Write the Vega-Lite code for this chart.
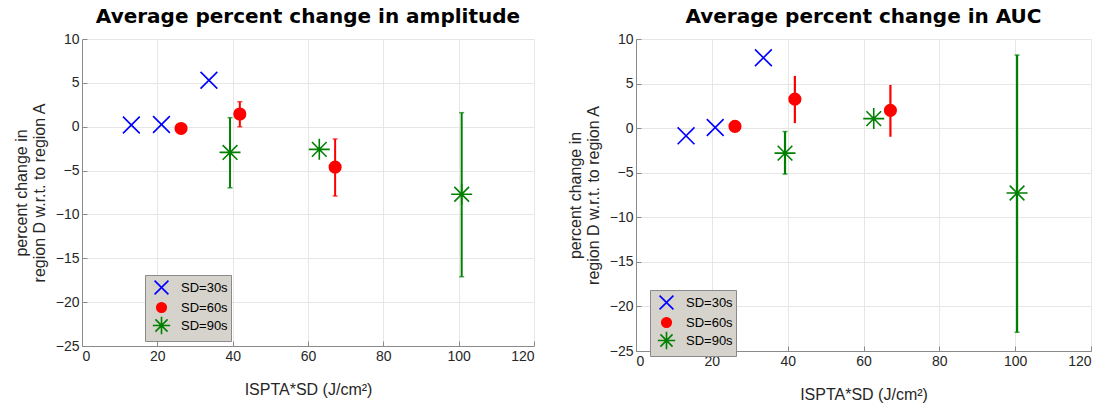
{
  "$schema": "https://vega.github.io/schema/vega-lite/v6.json",
  "background": "white",
  "padding": {"left": 13, "top": 7, "right": 10, "bottom": 5},
  "spacing": 32,
  "config": {
    "font": "Liberation Sans",
    "view": {"stroke": null},
    "title": {"font": "DejaVu Sans", "fontSize": 20, "fontWeight": "bold", "color": "#000000", "offset": 5, "anchor": "middle"},
    "axis": {
      "domainColor": "#8a8a8a",
      "domainWidth": 1,
      "tickColor": "#8a8a8a",
      "tickSize": -5,
      "labelPadding": 8,
      "labelFont": "Liberation Sans",
      "labelFontSize": 14,
      "labelColor": "#262626",
      "titleFont": "Liberation Sans",
      "titleFontSize": 16,
      "titleFontWeight": "normal",
      "titleColor": "#262626",
      "gridColor": "#e6e6e6",
      "gridWidth": 1
    },
    "axisX": {"titlePadding": 18},
    "legend": {
      "fillColor": "#d6d3cc",
      "strokeColor": "#8a8a8a",
      "padding": 3,
      "labelFont": "Liberation Sans",
      "labelFontSize": 13,
      "labelColor": "#000000",
      "symbolStrokeWidth": 1.6,
      "symbolSize": 300,
      "symbolOffset": 4,
      "rowPadding": -3,
      "labelOffset": 10
    }
  },
  "datasets": {
    "amp": [
      {"series": "SD=30s", "x": 13.1, "y": 0.2},
      {"series": "SD=30s", "x": 21.1, "y": 0.25},
      {"series": "SD=30s", "x": 33.7, "y": 5.3},
      {"series": "SD=60s", "x": 26.3, "y": -0.2},
      {"series": "SD=60s", "x": 41.9, "y": 1.45, "lo": 0.0, "hi": 2.85},
      {"series": "SD=60s", "x": 67.2, "y": -4.6, "lo": -7.9, "hi": -1.4},
      {"series": "SD=90s", "x": 39.3, "y": -2.93, "lo": -6.96, "hi": 1.03},
      {"series": "SD=90s", "x": 63.0, "y": -2.58},
      {"series": "SD=90s", "x": 100.8, "y": -7.7, "lo": -17.1, "hi": 1.6}
    ],
    "auc": [
      {"series": "SD=30s", "x": 13.2, "y": -0.86},
      {"series": "SD=30s", "x": 20.9, "y": 0.07},
      {"series": "SD=30s", "x": 33.6, "y": 7.9},
      {"series": "SD=60s", "x": 26.1, "y": 0.2},
      {"series": "SD=60s", "x": 41.9, "y": 3.25, "lo": 0.56, "hi": 5.86},
      {"series": "SD=60s", "x": 67.1, "y": 2.0, "lo": -0.97, "hi": 4.85},
      {"series": "SD=90s", "x": 39.3, "y": -2.8, "lo": -5.15, "hi": -0.38},
      {"series": "SD=90s", "x": 62.7, "y": 1.07},
      {"series": "SD=90s", "x": 100.5, "y": -7.28, "lo": -22.9, "hi": 8.2}
    ]
  },
  "resolve": {
    "scale": {"shape": "independent", "fill": "independent", "stroke": "independent", "color": "independent"},
    "legend": {"shape": "independent", "fill": "independent", "stroke": "independent", "color": "independent"}
  },
  "hconcat": [
    {
      "title": "Average percent change in amplitude",
      "width": 452,
      "height": 307,
      "data": {"name": "amp"},
      "encoding": {
        "x": {"field": "x", "type": "quantitative", "scale": {"domain": [0, 120], "nice": false}, "axis": {"values": [0, 20, 40, 60, 80, 100, 120], "title": "ISPTA*SD (J/cm²)", "grid": true}},
        "y": {"field": "y", "type": "quantitative", "scale": {"domain": [-25, 10], "nice": false}, "axis": {"values": [-25, -20, -15, -10, -5, 0, 5, 10], "title": ["percent change in", "region D w.r.t. to region A"], "grid": true, "titlePadding": 8}}
      },
      "layer": [
        {
          "transform": [{"filter": "isValid(datum.lo)"}],
          "mark": {"type": "rule", "strokeWidth": 2},
          "encoding": {
            "y": {"field": "lo", "type": "quantitative"},
            "y2": {"field": "hi"},
            "color": {"field": "series", "type": "nominal", "scale": {"domain": ["SD=60s", "SD=90s"], "range": ["#ff0000", "#008000"]}, "legend": null}
          }
        },
        {
          "transform": [{"filter": "isValid(datum.lo)"}],
          "mark": {"type": "tick", "orient": "horizontal", "size": 5, "thickness": 1.5},
          "encoding": {
            "y": {"field": "lo", "type": "quantitative"},
            "color": {"field": "series", "type": "nominal", "scale": {"domain": ["SD=60s", "SD=90s"], "range": ["#ff0000", "#008000"]}, "legend": null}
          }
        },
        {
          "transform": [{"filter": "isValid(datum.hi)"}],
          "mark": {"type": "tick", "orient": "horizontal", "size": 5, "thickness": 1.5},
          "encoding": {
            "y": {"field": "hi", "type": "quantitative"},
            "color": {"field": "series", "type": "nominal", "scale": {"domain": ["SD=60s", "SD=90s"], "range": ["#ff0000", "#008000"]}, "legend": null}
          }
        },
        {
          "mark": {"type": "point", "strokeWidth": 1.6, "opacity": 1, "size": 441},
          "encoding": {
            "shape": {"field": "series", "type": "nominal", "title": null, "scale": {"domain": ["SD=30s", "SD=60s", "SD=90s"], "range": ["M-0.8,-0.8L0.8,0.8M-0.8,0.8L0.8,-0.8", "M-0.55,0A0.55,0.55,0,1,0,0.55,0A0.55,0.55,0,1,0,-0.55,0Z", "M-1,0L1,0M0,-1L0,1M-0.7,-0.7L0.7,0.7M-0.7,0.7L0.7,-0.7"]}, "legend": {"orient": "none", "legendX": 63, "legendY": 236}},
            "stroke": {"field": "series", "type": "nominal", "title": null, "scale": {"domain": ["SD=30s", "SD=60s", "SD=90s"], "range": ["#0000ff", "#ff0000", "#008000"]}, "legend": {"orient": "none", "legendX": 63, "legendY": 236}},
            "fill": {"field": "series", "type": "nominal", "title": null, "scale": {"domain": ["SD=30s", "SD=60s", "SD=90s"], "range": ["transparent", "#ff0000", "transparent"]}, "legend": {"orient": "none", "legendX": 63, "legendY": 236}}
          }
        }
      ]
    },
    {
      "title": "Average percent change in AUC",
      "width": 455,
      "height": 312,
      "data": {"name": "auc"},
      "encoding": {
        "x": {"field": "x", "type": "quantitative", "scale": {"domain": [0, 120], "nice": false}, "axis": {"values": [0, 20, 40, 60, 80, 100, 120], "title": "ISPTA*SD (J/cm²)", "grid": true}},
        "y": {"field": "y", "type": "quantitative", "scale": {"domain": [-25, 10], "nice": false}, "axis": {"values": [-25, -20, -15, -10, -5, 0, 5, 10], "title": ["percent change in", "region D w.r.t. to region A"], "grid": true, "titlePadding": 8}}
      },
      "layer": [
        {
          "transform": [{"filter": "isValid(datum.lo)"}],
          "mark": {"type": "rule", "strokeWidth": 2.2},
          "encoding": {
            "y": {"field": "lo", "type": "quantitative"},
            "y2": {"field": "hi"},
            "color": {"field": "series", "type": "nominal", "scale": {"domain": ["SD=60s", "SD=90s"], "range": ["#ff0000", "#008000"]}, "legend": null}
          }
        },
        {
          "transform": [{"filter": "isValid(datum.lo) && datum.series == 'SD=90s'"}],
          "mark": {"type": "tick", "orient": "horizontal", "size": 5, "thickness": 1.5},
          "encoding": {
            "y": {"field": "lo", "type": "quantitative"},
            "color": {"field": "series", "type": "nominal", "scale": {"domain": ["SD=60s", "SD=90s"], "range": ["#ff0000", "#008000"]}, "legend": null}
          }
        },
        {
          "transform": [{"filter": "isValid(datum.hi) && datum.series == 'SD=90s'"}],
          "mark": {"type": "tick", "orient": "horizontal", "size": 5, "thickness": 1.5},
          "encoding": {
            "y": {"field": "hi", "type": "quantitative"},
            "color": {"field": "series", "type": "nominal", "scale": {"domain": ["SD=60s", "SD=90s"], "range": ["#ff0000", "#008000"]}, "legend": null}
          }
        },
        {
          "mark": {"type": "point", "strokeWidth": 1.6, "opacity": 1, "size": 441},
          "encoding": {
            "shape": {"field": "series", "type": "nominal", "title": null, "scale": {"domain": ["SD=30s", "SD=60s", "SD=90s"], "range": ["M-0.8,-0.8L0.8,0.8M-0.8,0.8L0.8,-0.8", "M-0.55,0A0.55,0.55,0,1,0,0.55,0A0.55,0.55,0,1,0,-0.55,0Z", "M-1,0L1,0M0,-1L0,1M-0.7,-0.7L0.7,0.7M-0.7,0.7L0.7,-0.7"]}, "legend": {"orient": "none", "legendX": 14, "legendY": 251}},
            "stroke": {"field": "series", "type": "nominal", "title": null, "scale": {"domain": ["SD=30s", "SD=60s", "SD=90s"], "range": ["#0000ff", "#ff0000", "#008000"]}, "legend": {"orient": "none", "legendX": 14, "legendY": 251}},
            "fill": {"field": "series", "type": "nominal", "title": null, "scale": {"domain": ["SD=30s", "SD=60s", "SD=90s"], "range": ["transparent", "#ff0000", "transparent"]}, "legend": {"orient": "none", "legendX": 14, "legendY": 251}}
          }
        }
      ]
    }
  ]
}
